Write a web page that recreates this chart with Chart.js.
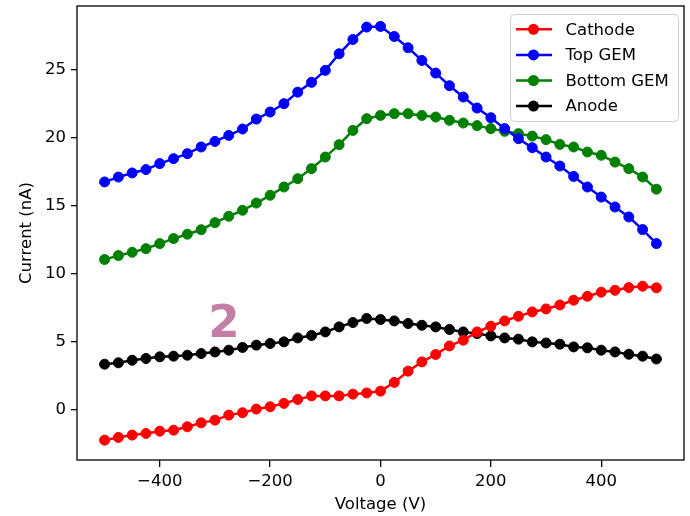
<!DOCTYPE html>
<html>
<head>
<meta charset="utf-8">
<script src="https://cdn.jsdelivr.net/npm/chart.js@4/dist/chart.umd.min.js"></script>
<style>
  body { margin: 0; background: #fff; }
  #chart { display: block; }
</style>
</head>
<body>
<canvas id="chart" width="690" height="516"></canvas>
<script>
// Voltage steps (V)
const voltage = [-500, -475, -450, -425, -400, -375, -350, -325, -300, -275,
  -250, -225, -200, -175, -150, -125, -100, -75, -50, -25,
  0, 25, 50, 75, 100, 125, 150, 175, 200, 225,
  250, 275, 300, 325, 350, 375, 400, 425, 450, 475, 500];

// Currents (nA)
const cathode = [-2.24, -2.04, -1.87, -1.75, -1.58, -1.51, -1.26, -0.97, -0.77, -0.40,
  -0.23, 0.04, 0.21, 0.46, 0.75, 1.01, 1.01, 1.01, 1.14, 1.23,
  1.36, 2.00, 2.83, 3.51, 4.05, 4.68, 5.10, 5.71, 6.13, 6.52,
  6.86, 7.18, 7.40, 7.69, 8.04, 8.33, 8.63, 8.77, 8.97, 9.07, 8.95];
const topGem = [16.73, 17.09, 17.39, 17.64, 18.08, 18.44, 18.81, 19.30, 19.71, 20.15,
  20.62, 21.35, 21.87, 22.48, 23.33, 24.05, 24.93, 26.15, 27.20, 28.11,
  28.16, 27.42, 26.59, 25.66, 24.73, 23.80, 22.97, 22.16, 21.45, 20.65,
  19.91, 19.25, 18.56, 17.90, 17.14, 16.36, 15.62, 14.89, 14.16, 13.23, 12.2];
const bottomGem = [11.03, 11.32, 11.56, 11.83, 12.20, 12.57, 12.89, 13.22, 13.74, 14.21,
  14.65, 15.18, 15.75, 16.36, 16.97, 17.71, 18.56, 19.47, 20.52, 21.38,
  21.62, 21.75, 21.75, 21.62, 21.50, 21.26, 21.06, 20.87, 20.65, 20.45,
  20.28, 20.10, 19.84, 19.49, 19.30, 18.93, 18.69, 18.19, 17.71, 17.09, 16.2];
const anode = [3.34, 3.44, 3.63, 3.76, 3.88, 3.93, 4.00, 4.12, 4.24, 4.37,
  4.57, 4.74, 4.86, 4.98, 5.27, 5.45, 5.71, 6.08, 6.40, 6.70,
  6.62, 6.52, 6.33, 6.20, 6.08, 5.89, 5.71, 5.59, 5.42, 5.27,
  5.18, 4.98, 4.90, 4.81, 4.61, 4.54, 4.37, 4.24, 4.07, 3.93, 3.72];

const seriesNames = ['Cathode', 'Top GEM', 'Bottom GEM', 'Anode'];
const seriesColors = ['#ff0000', '#0000ff', '#008000', '#000000'];
const xTicks = [-400, -200, 0, 200, 400];
const yTicks = [0, 5, 10, 15, 20, 25];

Chart.defaults.font.family = 'DejaVu Sans';
Chart.defaults.font.size = 16.5;
Chart.defaults.color = '#000';

const toPoints = arr => arr.map((v, i) => ({ x: voltage[i], y: v }));

const datasets = [cathode, topGem, bottomGem, anode].map((arr, i) => ({
  label: seriesNames[i],
  data: toPoints(arr),
  borderColor: seriesColors[i],
  backgroundColor: seriesColors[i],
  borderWidth: 2.5,
  pointRadius: 5,
  pointBorderWidth: 1,
  pointHoverRadius: 5,
  tension: 0
}));

// frame around plot area (matplotlib style spines)
const frame = {
  id: 'frame',
  afterDatasetsDraw(chart) {
    const { ctx, chartArea: a } = chart;
    ctx.save();
    ctx.strokeStyle = '#000';
    ctx.lineWidth = 1.3;
    ctx.strokeRect(a.left, a.top, a.right - a.left, a.bottom - a.top);
    ctx.restore();
  }
};

// the big "2" label
const marker2 = {
  id: 'marker2',
  afterDatasetsDraw(chart) {
    const ctx = chart.ctx;
    ctx.save();
    ctx.fillStyle = '#c47fa6';
    ctx.font = 'bold 45px "DejaVu Sans"';
    ctx.textAlign = 'center';
    ctx.textBaseline = 'alphabetic';
    ctx.fillText('2', 224, 337);
    ctx.restore();
  }
};

// legend box drawn like matplotlib's
const legendBox = {
  id: 'legendBox',
  afterDraw(chart) {
    const ctx = chart.ctx;
    const x0 = 510.5, y0 = 14.5, w = 168, h = 107;
    ctx.save();
    ctx.beginPath();
    ctx.roundRect(x0, y0, w, h, 4);
    ctx.fillStyle = 'rgba(255,255,255,0.8)';
    ctx.fill();
    ctx.strokeStyle = '#cccccc';
    ctx.lineWidth = 1;
    ctx.stroke();
    chart.data.datasets.forEach((ds, i) => {
      const y = 29.3 + i * 25.6;
      ctx.strokeStyle = ds.borderColor;
      ctx.lineWidth = 2.5;
      ctx.beginPath();
      ctx.moveTo(516, y);
      ctx.lineTo(552, y);
      ctx.stroke();
      ctx.fillStyle = ds.borderColor;
      ctx.beginPath();
      ctx.arc(533.5, y, 5.5, 0, Math.PI * 2);
      ctx.fill();
      ctx.fillStyle = '#000';
      ctx.font = '16.5px "DejaVu Sans"';
      ctx.textAlign = 'left';
      ctx.textBaseline = 'middle';
      ctx.fillText(ds.label, 565.5, y + 1);
    });
    ctx.restore();
  }
};

new Chart(document.getElementById('chart'), {
  type: 'line',
  data: { datasets: datasets },
  options: {
    responsive: false,
    animation: false,
    devicePixelRatio: 1,
    layout: { padding: { top: 5.5, right: 4, left: 0, bottom: 0 } },
    plugins: {
      legend: { display: false },
      tooltip: { enabled: false }
    },
    scales: {
      x: {
        type: 'linear',
        min: -550,
        max: 550,
        afterBuildTicks: s => { s.ticks = xTicks.map(v => ({ value: v })); },
        afterFit: s => { s.height = 56; s.paddingLeft = 0; s.paddingRight = 0; },
        border: { display: false },
        grid: { drawOnChartArea: false, drawTicks: true, tickLength: 7, color: '#000', lineWidth: 1.3 },
        ticks: { padding: 5, maxRotation: 0, autoSkip: false,
          callback: v => v < 0 ? '\u2212' + Math.abs(v) : String(v) },
        title: { display: true, text: 'Voltage (V)', padding: { top: 0, bottom: 1 } }
      },
      y: {
        type: 'linear',
        min: -3.7,
        max: 29.66,
        afterBuildTicks: s => { s.ticks = yTicks.map(v => ({ value: v })); },
        afterFit: s => { s.width = 77; s.paddingTop = 0; s.paddingBottom = 0; },
        border: { display: false },
        grid: { drawOnChartArea: false, drawTicks: true, tickLength: 6, color: '#000', lineWidth: 1.3 },
        ticks: { padding: 5, autoSkip: false },
        title: { display: true, text: 'Current (nA)', padding: { top: 17, bottom: 0 } }
      }
    }
  },
  plugins: [frame, marker2, legendBox]
});
</script>
</body>
</html>
